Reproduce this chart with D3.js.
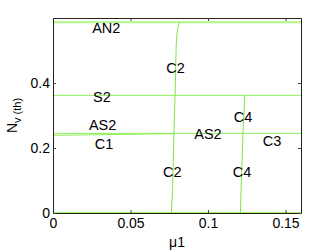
<!DOCTYPE html>
<html>
<head>
<meta charset="utf-8">
<script src="https://d3js.org/d3.v7.min.js"></script>
<style>
  body { margin: 0; background: #fff; }
  text { font-family: "Liberation Sans", Arial, sans-serif; }
</style>
</head>
<body>
<svg id="vis"></svg>
<script>
  var width = 332, height = 250;
  var margin = {left: 53, right: 31, top: 18, bottom: 37};

  // data
  var xTicks = [0, 0.05, 0.1, 0.15];
  var yTicks = [0, 0.2, 0.4];

  // horizontal branches
  var an2 = [[0, 0.587], [0.16, 0.587]];
  var s2 = [[0, 0.362], [0.16, 0.362]];
  var as2 = [[0, 0.245], [0.16, 0.245]];
  var c1 = [[0, 0.239], [0.078, 0.244]];
  var base = [[0, 0.001], [0.16, 0.001]];

  // vertical branches: [x, y]
  var c2 = [[0.0764, 0], [0.0771, 0.07], [0.078, 0.245], [0.079, 0.4],
            [0.0794, 0.5], [0.0800, 0.55], [0.0808, 0.575], [0.0818, 0.587]];
  var c4 = [[0.1209, 0], [0.1226, 0.245], [0.1237, 0.362]];

  var labels = [
    {t: 'AN2', x: 0.0344, y: 0.570},
    {t: 'C2', x: 0.079, y: 0.446},
    {t: 'S2', x: 0.0316, y: 0.359},
    {t: 'C4', x: 0.1226, y: 0.295},
    {t: 'AS2', x: 0.032, y: 0.271},
    {t: 'C1', x: 0.0329, y: 0.214},
    {t: 'AS2', x: 0.100, y: 0.243},
    {t: 'C3', x: 0.1413, y: 0.222},
    {t: 'C2', x: 0.077, y: 0.127},
    {t: 'C4', x: 0.1219, y: 0.127}
  ];

  var svg = d3.select('#vis')
      .attr('width', width)
      .attr('height', height);

  var x = d3.scaleLinear().domain([0, 0.16]).range([margin.left, width - margin.right]);
  var y = d3.scaleLinear().domain([0, 0.6]).range([height - margin.bottom, margin.top]);

  var line = d3.line()
      .x(function(d) { return x(d[0]); })
      .y(function(d) { return y(d[1]); });

  // branches
  [base, c1, as2, s2].forEach(function(d) {
    svg.append('path').datum(d)
        .attr('d', line)
        .attr('fill', 'none')
        .attr('stroke', '#8fee5a')
        .attr('stroke-width', 1);
  });
  svg.append('path').datum(an2)
      .attr('d', line)
      .attr('fill', 'none')
      .attr('stroke', '#aef58a')
      .attr('stroke-width', 2);

  var vline = d3.line()
      .x(function(d) { return x(d[0]); })
      .y(function(d) { return y(d[1]); })
      .curve(d3.curveMonotoneY);
  [c2, c4].forEach(function(d) {
    svg.append('path').datum(d)
        .attr('d', vline)
        .attr('fill', 'none')
        .attr('stroke', '#7ee84a')
        .attr('stroke-width', 1);
  });

  // box axes
  var fmt = function(d) { return d === 0 ? '0' : String(d); };
  svg.append('g')
      .attr('transform', 'translate(0,' + y(0) + ')')
      .call(d3.axisBottom(x).tickValues(xTicks).tickSizeInner(-3).tickSizeOuter(0).tickPadding(5).tickFormat(fmt));
  svg.append('g')
      .attr('transform', 'translate(0,' + y(0.6) + ')')
      .call(d3.axisTop(x).tickValues(xTicks).tickSizeInner(-3).tickSizeOuter(0).tickFormat(''));
  svg.append('g')
      .attr('transform', 'translate(' + x(0) + ',0)')
      .call(d3.axisLeft(y).tickValues(yTicks).tickSizeInner(-3).tickSizeOuter(0).tickPadding(3).tickFormat(fmt));
  svg.append('g')
      .attr('transform', 'translate(' + x(0.16) + ',0)')
      .call(d3.axisRight(y).tickValues(yTicks).tickSizeInner(-3).tickSizeOuter(0).tickFormat(''));

  svg.selectAll('.domain').attr('stroke', '#222');
  svg.selectAll('.tick line').attr('stroke', '#444');
  svg.selectAll('.tick text')
      .attr('fill', '#000')
      .style('font-size', '14px');

  // annotations
  svg.selectAll('text.lab')
      .data(labels)
      .enter().append('text')
      .attr('class', 'lab')
      .attr('x', function(d) { return x(d.x); })
      .attr('y', function(d) { return y(d.y); })
      .attr('dy', '0.36em')
      .attr('text-anchor', 'middle')
      .style('font-size', '14.5px')
      .text(function(d) { return d.t; });

  // axis titles
  svg.append('text')
      .attr('x', x(0.08))
      .attr('y', 247)
      .attr('text-anchor', 'middle')
      .style('font-size', '14px')
      .text('μ1');

  var yl = svg.append('text')
      .attr('transform', 'translate(17,' + y(0.3) + ') rotate(-90)')
      .attr('text-anchor', 'middle')
      .style('font-size', '14px');
  yl.append('tspan').text('N');
  yl.append('tspan').attr('dy', 4).style('font-size', '11px').text('v (th)');
</script>
</body>
</html>
